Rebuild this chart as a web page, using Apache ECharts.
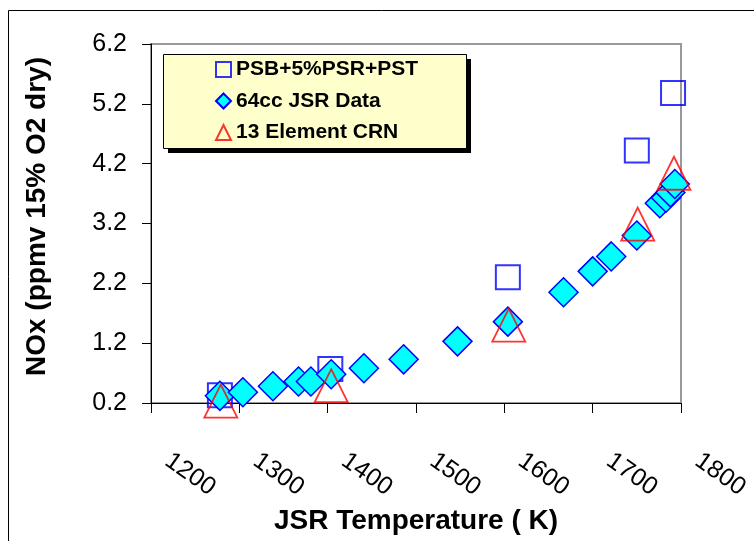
<!DOCTYPE html>
<html>
<head>
<meta charset="utf-8">
<script src="https://cdn.jsdelivr.net/npm/echarts@6/dist/echarts.min.js"></script>
<style>
html,body{margin:0;padding:0;background:#fff;}
#c{width:754px;height:541px;}
</style>
</head>
<body>
<div id="c"></div>
<script>
// ---- data ----
var seriesNames = ['PSB+5%PSR+PST', '64cc JSR Data', '13 Element CRN'];
var psbTemp = [1278, 1403, 1604, 1750, 1791];
var psbNOx  = [0.33, 0.77, 2.30, 4.42, 5.38];
var jsrTemp = [1278, 1304, 1338, 1367, 1381, 1404, 1441, 1486, 1547, 1604, 1667, 1700, 1721, 1750, 1776, 1783, 1788, 1793];
var jsrNOx  = [0.32, 0.38, 0.48, 0.56, 0.56, 0.68, 0.78, 0.93, 1.23, 1.56, 2.05, 2.40, 2.65, 3.00, 3.54, 3.63, 3.72, 3.86];
var crnTemp = [1279, 1404, 1605, 1751, 1792];
var crnNOx  = [0.23, 0.49, 1.50, 3.19, 4.04];
var xTicks = [1200, 1300, 1400, 1500, 1600, 1700, 1800];
var yTicks = [0.2, 1.2, 2.2, 3.2, 4.2, 5.2, 6.2];
var xTitle = 'JSR Temperature ( K)';
var yTitle = 'NOx (ppmv 15% O2 dry)';

function pairs(xs, ys) { return xs.map(function (x, i) { return [x, ys[i]]; }); }

var FONT = "'Liberation Sans', Arial, sans-serif";
var chart = echarts.init(document.getElementById('c'), null, {renderer: 'canvas'});
chart.setOption({
  backgroundColor: '#ffffff',
  animation: false,
  graphic: [
    {type: 'rect', z: 0, shape: {x: 8.5, y: 10.5, width: 900, height: 700}, style: {fill: 'none', stroke: '#000', lineWidth: 1}},
    {type: 'rect', z: 5, shape: {x: 168, y: 59, width: 303, height: 94}, style: {fill: '#000'}},
    {type: 'rect', z: 5, shape: {x: 163.5, y: 54.5, width: 303, height: 94}, style: {fill: '#FFFFCC', stroke: '#000', lineWidth: 1}}
  ],
  grid: {left: 151, right: 73, top: 44, bottom: 138, show: true, borderColor: '#999', borderWidth: 2, backgroundColor: 'transparent'},
  legend: {
    z: 10,
    orient: 'vertical',
    left: 163, top: 54,
    padding: [5, 10, 8, 52],
    itemGap: 10.5,
    itemWidth: 15, itemHeight: 15,
    data: seriesNames,
    textStyle: {fontFamily: FONT, fontWeight: 'bold', fontSize: 21, color: '#000'}
  },
  xAxis: {
    type: 'value', min: xTicks[0], max: xTicks[xTicks.length - 1], interval: 100,
    name: xTitle, nameLocation: 'middle', nameGap: 103,
    nameTextStyle: {fontFamily: FONT, fontWeight: 'bold', fontSize: 28, color: '#000'},
    axisLine: {show: true, onZero: false, lineStyle: {color: '#000', width: 1}},
    axisTick: {show: true, inside: false, length: 10, lineStyle: {color: '#000'}},
    splitLine: {show: false},
    axisLabel: {rotate: -35, margin: 44, padding: [0, 0, 0, 20], fontFamily: FONT, fontSize: 25, color: '#000',
      formatter: function (v) { return String(Math.round(v)); }}
  },
  yAxis: {
    type: 'value', min: yTicks[0], max: yTicks[yTicks.length - 1], interval: 1,
    name: yTitle, nameLocation: 'middle', nameGap: 100, nameRotate: 90,
    nameTextStyle: {fontFamily: FONT, fontWeight: 'bold', fontSize: 28, color: '#000', padding: [0, 0, 0, 14]},
    axisLine: {show: true, onZero: false, lineStyle: {color: '#000', width: 1}},
    axisTick: {show: true, inside: false, length: 9, lineStyle: {color: '#000'}},
    splitLine: {show: false},
    axisLabel: {margin: 24, fontFamily: FONT, fontSize: 25, color: '#000',
      formatter: function (v) { return v.toFixed(1); }}
  },
  series: [
    {name: seriesNames[0], type: 'scatter', symbol: 'rect', symbolSize: 24, z: 2, clip: false,
      itemStyle: {color: 'rgba(255,255,255,0)', borderColor: '#0000FF', borderWidth: 2},
      data: pairs(psbTemp, psbNOx)},
    {name: seriesNames[1], type: 'scatter', symbol: 'diamond', symbolSize: 29, z: 3, clip: false,
      itemStyle: {color: '#00FFFF', borderColor: '#0000FF', borderWidth: 1.5, opacity: 1},
      data: pairs(jsrTemp, jsrNOx)},
    {name: seriesNames[2], type: 'scatter', symbol: 'triangle', symbolSize: 33, z: 4, clip: false,
      itemStyle: {color: 'rgba(255,255,255,0)', borderColor: '#FF0000', borderWidth: 1.8},
      data: pairs(crnTemp, crnNOx)}
  ]
});
</script>
</body>
</html>
